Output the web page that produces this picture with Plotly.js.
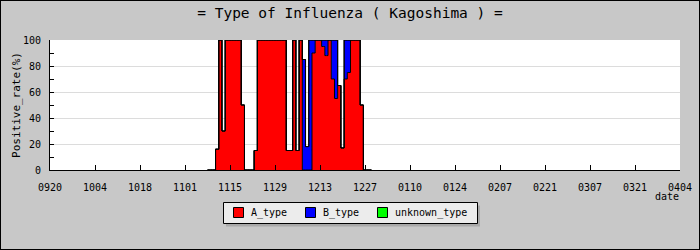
<!DOCTYPE html>
<html>
<head>
<meta charset="utf-8">
<script src="https://cdn.plot.ly/plotly-3.0.1.min.js"></script>
<style>
  html, body { margin: 0; padding: 0; background: #c8c8c8; }
  #chart { width: 700px; height: 250px; box-sizing: border-box; border: 1px solid #000; }
</style>
</head>
<body>
<div id="chart"></div>
<script>
// ---- data ----
const tickLabels = ['0920','1004','1018','1101','1115','1129','1213','1227','0110','0124','0207','0221','0307','0321','0404'];
const days = ['1108','1109','1110','1111','1112','1113','1114','1115','1116','1117','1118','1119','1120','1121','1122','1123','1124','1125','1126','1127','1128','1129','1130',
              '1201','1202','1203','1204','1205','1206','1207','1208','1209','1210','1211','1212','1213','1214','1215','1216','1217','1218','1219','1220','1221','1222','1223','1224','1225','1226','1227','1228','1229'];
const aType = [0,0,0,16,100,30,100,100,100,100,100,50,0,0,0,15,100,100,100,100,100,100,100,
               100,100,15,15,100,15,100,0,0,0,90,100,100,95,88,100,70,55,65,17,70,75,100,100,100,50,0,0,0];
const bType = [0,0,0,0,0,0,0,0,0,0,0,0,0,0,0,0,0,0,0,0,0,0,0,
               0,0,0,0,0,0,0,85,18,100,10,0,0,5,12,0,30,45,0,0,30,25,0,0,0,0,0,0,0];
const unknownType = days.map(() => 0);
const seriesNames = ['A_type','B_type','unknown_type'];
const seriesColors = ['#ff0000','#0000ff','#00ff00'];

// ---- helpers ----
function toDate(mmdd) {
  const m = parseInt(mmdd.slice(0,2), 10);
  const year = m >= 9 ? 2010 : 2011;
  return year + '-' + mmdd.slice(0,2) + '-' + mmdd.slice(2,4);
}
const xDates = days.map(toDate);
const tickDates = tickLabels.map(toDate);

const mono = 'DejaVu Sans Mono, Liberation Mono, monospace';
const seriesValues = [aType, bType, unknownType];

const traces = seriesValues.map((vals, i) => ({
  type: 'scatter',
  x: xDates,
  y: vals,
  name: seriesNames[i],
  stackgroup: 'one',
  mode: 'lines',
  line: { color: '#000000', width: 1, shape: 'hvh' },
  fillcolor: seriesColors[i],
  showlegend: false,
  hoverinfo: 'skip'
}));

const W = 698, H = 248;
const ml = 49, mt = 39, mr = 19, mb = 79;
const pw = W - ml - mr, ph = H - mt - mb;
// convert picture pixel coordinates (700x250 incl. 1px border) to paper coords
const ix = v => (v - 1 - ml) / pw;
const iy = v => (mt + ph - (v - 1)) / ph;

// hand-drawn legend (box, shadow, swatches, labels)
const legendX = [233, 305, 377];
const shapes = [
  { type: 'rect', xref: 'paper', yref: 'paper', layer: 'above',
    x0: ix(226), x1: ix(480), y0: iy(226.5), y1: iy(205.5),
    fillcolor: '#a9a9a9', line: { width: 0 } },
  { type: 'rect', xref: 'paper', yref: 'paper', layer: 'above',
    x0: ix(223.5), x1: ix(477.5), y0: iy(223.5), y1: iy(202.5),
    fillcolor: '#ececec', line: { color: '#000', width: 1 } }
];
const annotations = [];
seriesNames.forEach((n, i) => {
  shapes.push({ type: 'rect', xref: 'paper', yref: 'paper', layer: 'above',
    x0: ix(legendX[i] + 0.5), x1: ix(legendX[i] + 10.5), y0: iy(217.5), y1: iy(207.5),
    fillcolor: seriesColors[i], line: { color: '#000', width: 1 } });
  annotations.push({ text: n, xref: 'paper', yref: 'paper',
    x: ix(legendX[i] + 16), xanchor: 'left', y: iy(213), yanchor: 'middle',
    showarrow: false, font: { family: mono, size: 10, color: '#000' } });
});
annotations.push({
  text: 'date', xref: 'paper', yref: 'paper',
  x: ix(681), xanchor: 'right', y: iy(196), yanchor: 'middle',
  showarrow: false, font: { family: mono, size: 10, color: '#000' }
});

const layout = {
  width: W, height: H,
  margin: { l: ml, r: mr, t: mt, b: mb, pad: 0 },
  paper_bgcolor: '#c8c8c8',
  plot_bgcolor: '#ffffff',
  font: { family: mono, size: 10, color: '#000' },
  title: {
    text: '= Type of Influenza ( Kagoshima ) =',
    font: { family: mono, size: 14.5, color: '#000' },
    x: 0.5, xanchor: 'center', xref: 'container',
    y: 1 - 12 / H, yanchor: 'middle', yref: 'container'
  },
  xaxis: {
    type: 'date',
    range: [tickDates[0], tickDates[tickDates.length - 1]],
    tickmode: 'array', tickvals: tickDates, ticktext: tickLabels,
    ticks: 'inside', ticklen: 5, tickcolor: '#000',
    ticklabelstandoff: 8,
    showgrid: false, showline: true, linecolor: '#000', linewidth: 1,
    zeroline: false, fixedrange: true,
    tickfont: { family: mono, size: 10, color: '#000' }
  },
  yaxis: {
    range: [0, 100],
    tickmode: 'array', tickvals: [0,20,40,60,80,100],
    ticks: 'inside', ticklen: 4, tickcolor: '#000',
    minor: { dtick: 10, ticks: 'inside', ticklen: 4, tickcolor: '#000', showgrid: false },
    ticklabelstandoff: 6,
    showgrid: true, gridcolor: '#dcdcdc', gridwidth: 1,
    showline: true, linecolor: '#000', linewidth: 1,
    zeroline: false, fixedrange: true,
    tickfont: { family: mono, size: 10, color: '#000' },
    title: { text: 'Positive_rate(%)', font: { family: mono, size: 11, color: '#000' }, standoff: 0 }
  },
  showlegend: false,
  shapes: shapes,
  annotations: annotations
};

Plotly.newPlot('chart', traces, layout, { staticPlot: true, displayModeBar: false });
</script>
</body>
</html>
